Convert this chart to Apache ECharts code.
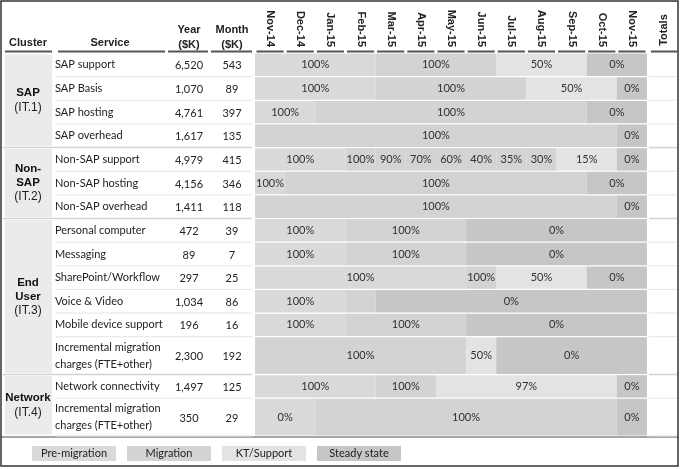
<!DOCTYPE html>
<html><head><meta charset="utf-8">
<script src="https://cdn.jsdelivr.net/npm/echarts@6/dist/echarts.min.js"></script>
<style>html,body{margin:0;padding:0;background:#fff}#c{width:680px;height:469px}</style>
</head><body><div id="c"></div>
<script>
// ---------- DATA ----------
const months = ['Nov-14','Dec-14','Jan-15','Feb-15','Mar-15','Apr-15','May-15','Jun-15','Jul-15','Aug-15','Sep-15','Oct-15','Nov-15'];
const phases = ['Pre-migration','Migration','KT/Support','Steady state'];
const clusterNames = ['SAP','Non-\nSAP','End\nUser','Network'];
const clusterCodes = ['(IT.1)','(IT.2)','(IT.3)','(IT.4)'];
const clusterSizes = [4,3,6,2];
const services = ['SAP support','SAP Basis','SAP hosting','SAP overhead','Non-SAP support','Non-SAP hosting','Non-SAP overhead','Personal computer','Messaging','SharePoint/Workflow','Voice & Video','Mobile device support','Incremental migration\ncharges (FTE+other)','Network connectivity','Incremental migration\ncharges (FTE+other)'];
const yearK = [6520,1070,4761,1617,4979,4156,1411,472,89,297,1034,196,2300,1497,350];
const monthK = [543,89,397,135,415,346,118,39,7,25,86,16,192,125,29];
// segments: [row, startMonth, endMonth, label]
const preMigration = [[0,0,4,'100%'],[1,0,4,'100%'],[2,0,2,'100%'],[4,0,3,'100%'],[5,0,1,'100%'],[7,0,3,'100%'],[8,0,3,'100%'],[9,0,7,'100%'],[10,0,3,'100%'],[11,0,3,'100%'],[13,0,4,'100%'],[14,0,2,'0%']];
const migration = [[0,4,8,'100%'],[1,4,9,'100%'],[2,2,11,'100%'],[3,0,12,'100%'],[4,3,4,'100%'],[4,4,5,'90%'],[4,5,6,'70%'],[4,6,7,'60%'],[4,7,8,'40%'],[4,8,9,'35%'],[4,9,10,'30%'],[5,1,11,'100%'],[6,0,12,'100%'],[7,3,7,'100%'],[8,3,7,'100%'],[9,7,8,'100%'],[10,3,4,''],[11,3,7,'100%'],[12,0,7,'100%'],[13,4,6,'100%'],[14,2,12,'100%']];
const ktSupport = [[0,8,11,'50%'],[1,9,12,'50%'],[4,10,12,'15%'],[9,8,11,'50%'],[12,7,8,'50%'],[13,6,12,'97%']];
const steadyState = [[0,11,13,'0%'],[1,12,13,'0%'],[2,11,13,'0%'],[3,12,13,'0%'],[4,12,13,'0%'],[5,11,13,'0%'],[6,12,13,'0%'],[7,7,13,'0%'],[8,7,13,'0%'],[9,11,13,'0%'],[10,4,13,'0%'],[11,7,13,'0%'],[12,8,13,'0%'],[13,12,13,'0%'],[14,12,13,'0%']];

// ---------- LAYOUT / STYLE ----------
const phaseData = [preMigration, migration, ktSupport, steadyState];
const phaseColors = ['#d9d9d9','#d3d3d3','#e3e3e3','#c6c6c6'];
const LINE_UNIT = 0.6;
const rowSpan = services.map(s => 1 + (s.split('\n').length - 1) * LINE_UNIT);
const rowTop = [];
let acc = 0;
rowSpan.forEach(h => { rowTop.push(acc); acc += h; });
const totalUnits = acc;
const bodyFont = '11px Lato';
const headFont = 'bold 11px "Liberation Sans"';
const X_SERVICE = 55, X_YEAR = 189, X_MONTH = 232;

const fmt = n => n.toLocaleString('en-US');

function segRenderer(data, color) {
  return function (params, api) {
    const d = data[params.dataIndex];
    const row = d[0];
    const p0 = api.coord([d[1], rowTop[row]]);
    const p1 = api.coord([d[2], rowTop[row] + rowSpan[row]]);
    return {
      type: 'group',
      children: [
        { type: 'rect', shape: { x: p0[0], y: p0[1] + 0.6, width: p1[0] - p0[0], height: p1[1] - p0[1] - 1.2 }, style: { fill: color } },
        { type: 'text', style: { text: d[3], x: (p0[0] + p1[0]) / 2, y: (p0[1] + p1[1]) / 2, align: 'center', verticalAlign: 'middle', font: bodyFont, fill: '#303030' } }
      ]
    };
  };
}

function tableRenderer(params, api) {
  const row = params.dataIndex;
  const p0 = api.coord([0, rowTop[row]]);
  const p1 = api.coord([13, rowTop[row] + rowSpan[row]]);
  const yc = (p0[1] + p1[1]) / 2;
  return {
    type: 'group',
    children: [
      { type: 'line', shape: { x1: X_SERVICE, y1: p1[1], x2: p0[0] - 3, y2: p1[1] }, style: { stroke: '#e4e4e4', lineWidth: 1 } },
      { type: 'line', shape: { x1: p1[0] + 2, y1: p1[1], x2: 677, y2: p1[1] }, style: { stroke: '#e4e4e4', lineWidth: 1 } },
      { type: 'text', style: { text: services[row], x: X_SERVICE, y: yc, align: 'left', verticalAlign: 'middle', font: bodyFont, fill: '#222', lineHeight: 17 } },
      { type: 'text', style: { text: fmt(yearK[row]), x: X_YEAR, y: yc + 1, align: 'center', verticalAlign: 'middle', font: bodyFont, fill: '#222' } },
      { type: 'text', style: { text: fmt(monthK[row]), x: X_MONTH, y: yc + 1, align: 'center', verticalAlign: 'middle', font: bodyFont, fill: '#222' } }
    ]
  };
}

function clusterRenderer(params, api) {
  const c = params.dataIndex;
  let first = 0;
  for (let i = 0; i < c; i++) first += clusterSizes[i];
  const last = first + clusterSizes[c] - 1;
  const p0 = api.coord([0, rowTop[first]]);
  const p1 = api.coord([13, rowTop[last] + rowSpan[last]]);
  const children = [
    { type: 'rect', shape: { x: 5, y: p0[1] + 1.5, width: 47, height: p1[1] - p0[1] - 3 }, style: { fill: '#ebebeb' } },
    { type: 'text', style: { text: '{b|' + clusterNames[c] + '}\n{n|' + clusterCodes[c] + '}', x: 28, y: (p0[1] + p1[1]) / 2, align: 'center', verticalAlign: 'middle',
      rich: { b: { font: 'bold 11.5px "Liberation Sans"', fill: '#111', lineHeight: 14, align: 'center' }, n: { font: '12px "Liberation Sans"', fill: '#222', lineHeight: 14, align: 'center' } } } }
  ];
  if (c < clusterSizes.length - 1) {
    children.push({ type: 'line', shape: { x1: 3, y1: p1[1], x2: p0[0] - 3, y2: p1[1] }, style: { stroke: '#d2d2d2', lineWidth: 1.5 } });
    children.push({ type: 'line', shape: { x1: p1[0] + 2, y1: p1[1], x2: 677, y2: p1[1] }, style: { stroke: '#d2d2d2', lineWidth: 1.5 } });
  }
  return { type: 'group', children };
}

function headerRenderer(params, api) {
  const i = params.dataIndex;
  const a = api.coord([i, 0]);
  const b = api.coord([i + 1, 0]);
  return { type: 'rect', shape: { x: a[0] + 1.5, y: a[1] - 2.5, width: b[0] - a[0] - 3, height: 2 }, style: { fill: '#555' } };
}

const chart = echarts.init(document.getElementById('c'), null, { renderer: 'canvas' });

const series = [
  { type: 'custom', name: 'table', renderItem: tableRenderer, data: services.map((s, i) => [0, i]), encode: { x: 0, y: 1 }, silent: true, z: 1 },
  { type: 'custom', name: 'clusters', renderItem: clusterRenderer, data: clusterNames.map((s, i) => [0, i]), encode: { x: 0, y: 1 }, silent: true, z: 2 },
  { type: 'custom', name: 'header', renderItem: headerRenderer, data: months.map((m, i) => [i, 0]), encode: { x: 0, y: 1 }, silent: true, z: 2 }
];
phases.forEach((p, k) => {
  series.push({
    type: 'custom', name: p, renderItem: segRenderer(phaseData[k], phaseColors[k]),
    data: phaseData[k].map(d => [d[0], d[1], d[2]]), encode: { x: [1, 2], y: 0 },
    itemStyle: { color: phaseColors[k] }, z: 3
  });
});

const legendRich = {};
phases.forEach((p, i) => {
  legendRich['p' + i] = { backgroundColor: phaseColors[i], width: 84, height: 15, lineHeight: 15, align: 'center', color: '#222', fontFamily: 'Lato', fontSize: 11 };
});

chart.setOption({
  animation: false,
  backgroundColor: '#fff',
  grid: { left: 255, right: 33, top: 53, bottom: 33 },
  xAxis: [
    { type: 'value', min: 0, max: 13, show: false },
    { type: 'category', data: months, position: 'top', gridIndex: 0,
      axisLine: { show: false }, axisTick: { show: false }, splitLine: { show: false },
      axisLabel: { rotate: 90, margin: 6, interval: 0, color: '#222', fontWeight: 'bold', fontSize: 11, fontFamily: 'Liberation Sans' } }
  ],
  yAxis: { type: 'value', inverse: true, min: 0, max: totalUnits, show: false },
  legend: {
    left: 22, top: 441, itemWidth: 0, itemHeight: 0, itemGap: 6, selectedMode: false, icon: 'rect',
    data: phases,
    formatter: name => '{p' + phases.indexOf(name) + '|' + name + '}',
    textStyle: { rich: legendRich }
  },
  series,
  graphic: [
    { type: 'text', style: { text: 'Cluster', x: 28, y: 43, align: 'center', verticalAlign: 'middle', font: headFont, fill: '#222' } },
    { type: 'text', style: { text: 'Service', x: 110, y: 43, align: 'center', verticalAlign: 'middle', font: headFont, fill: '#222' } },
    { type: 'text', style: { text: 'Year\n($K)', x: X_YEAR, y: 37, align: 'center', verticalAlign: 'middle', font: headFont, fill: '#222', lineHeight: 15 } },
    { type: 'text', style: { text: 'Month\n($K)', x: X_MONTH, y: 37, align: 'center', verticalAlign: 'middle', font: headFont, fill: '#222', lineHeight: 15 } },
    { type: 'text', rotation: Math.PI / 2, x: 664, y: 30, style: { text: 'Totals', x: 0, y: 0, align: 'center', verticalAlign: 'middle', font: headFont, fill: '#222' } },
    { type: 'rect', shape: { x: 5, y: 50.5, width: 47, height: 2 }, style: { fill: '#555' } },
    { type: 'rect', shape: { x: 58, y: 50.5, width: 107, height: 2 }, style: { fill: '#555' } },
    { type: 'rect', shape: { x: 168, y: 50.5, width: 40, height: 2 }, style: { fill: '#555' } },
    { type: 'rect', shape: { x: 211, y: 50.5, width: 41, height: 2 }, style: { fill: '#555' } },
    { type: 'rect', shape: { x: 651, y: 50.5, width: 26, height: 2 }, style: { fill: '#555' } },
    { type: 'line', shape: { x1: 1, y1: 437, x2: 678, y2: 437 }, style: { stroke: '#8a8a8a', lineWidth: 1.5 } },
    { type: 'rect', shape: { x: 1, y: 1, width: 677, height: 465 }, style: { fill: 'none', stroke: '#333', lineWidth: 1.5 } }
  ]
});
</script></body></html>
